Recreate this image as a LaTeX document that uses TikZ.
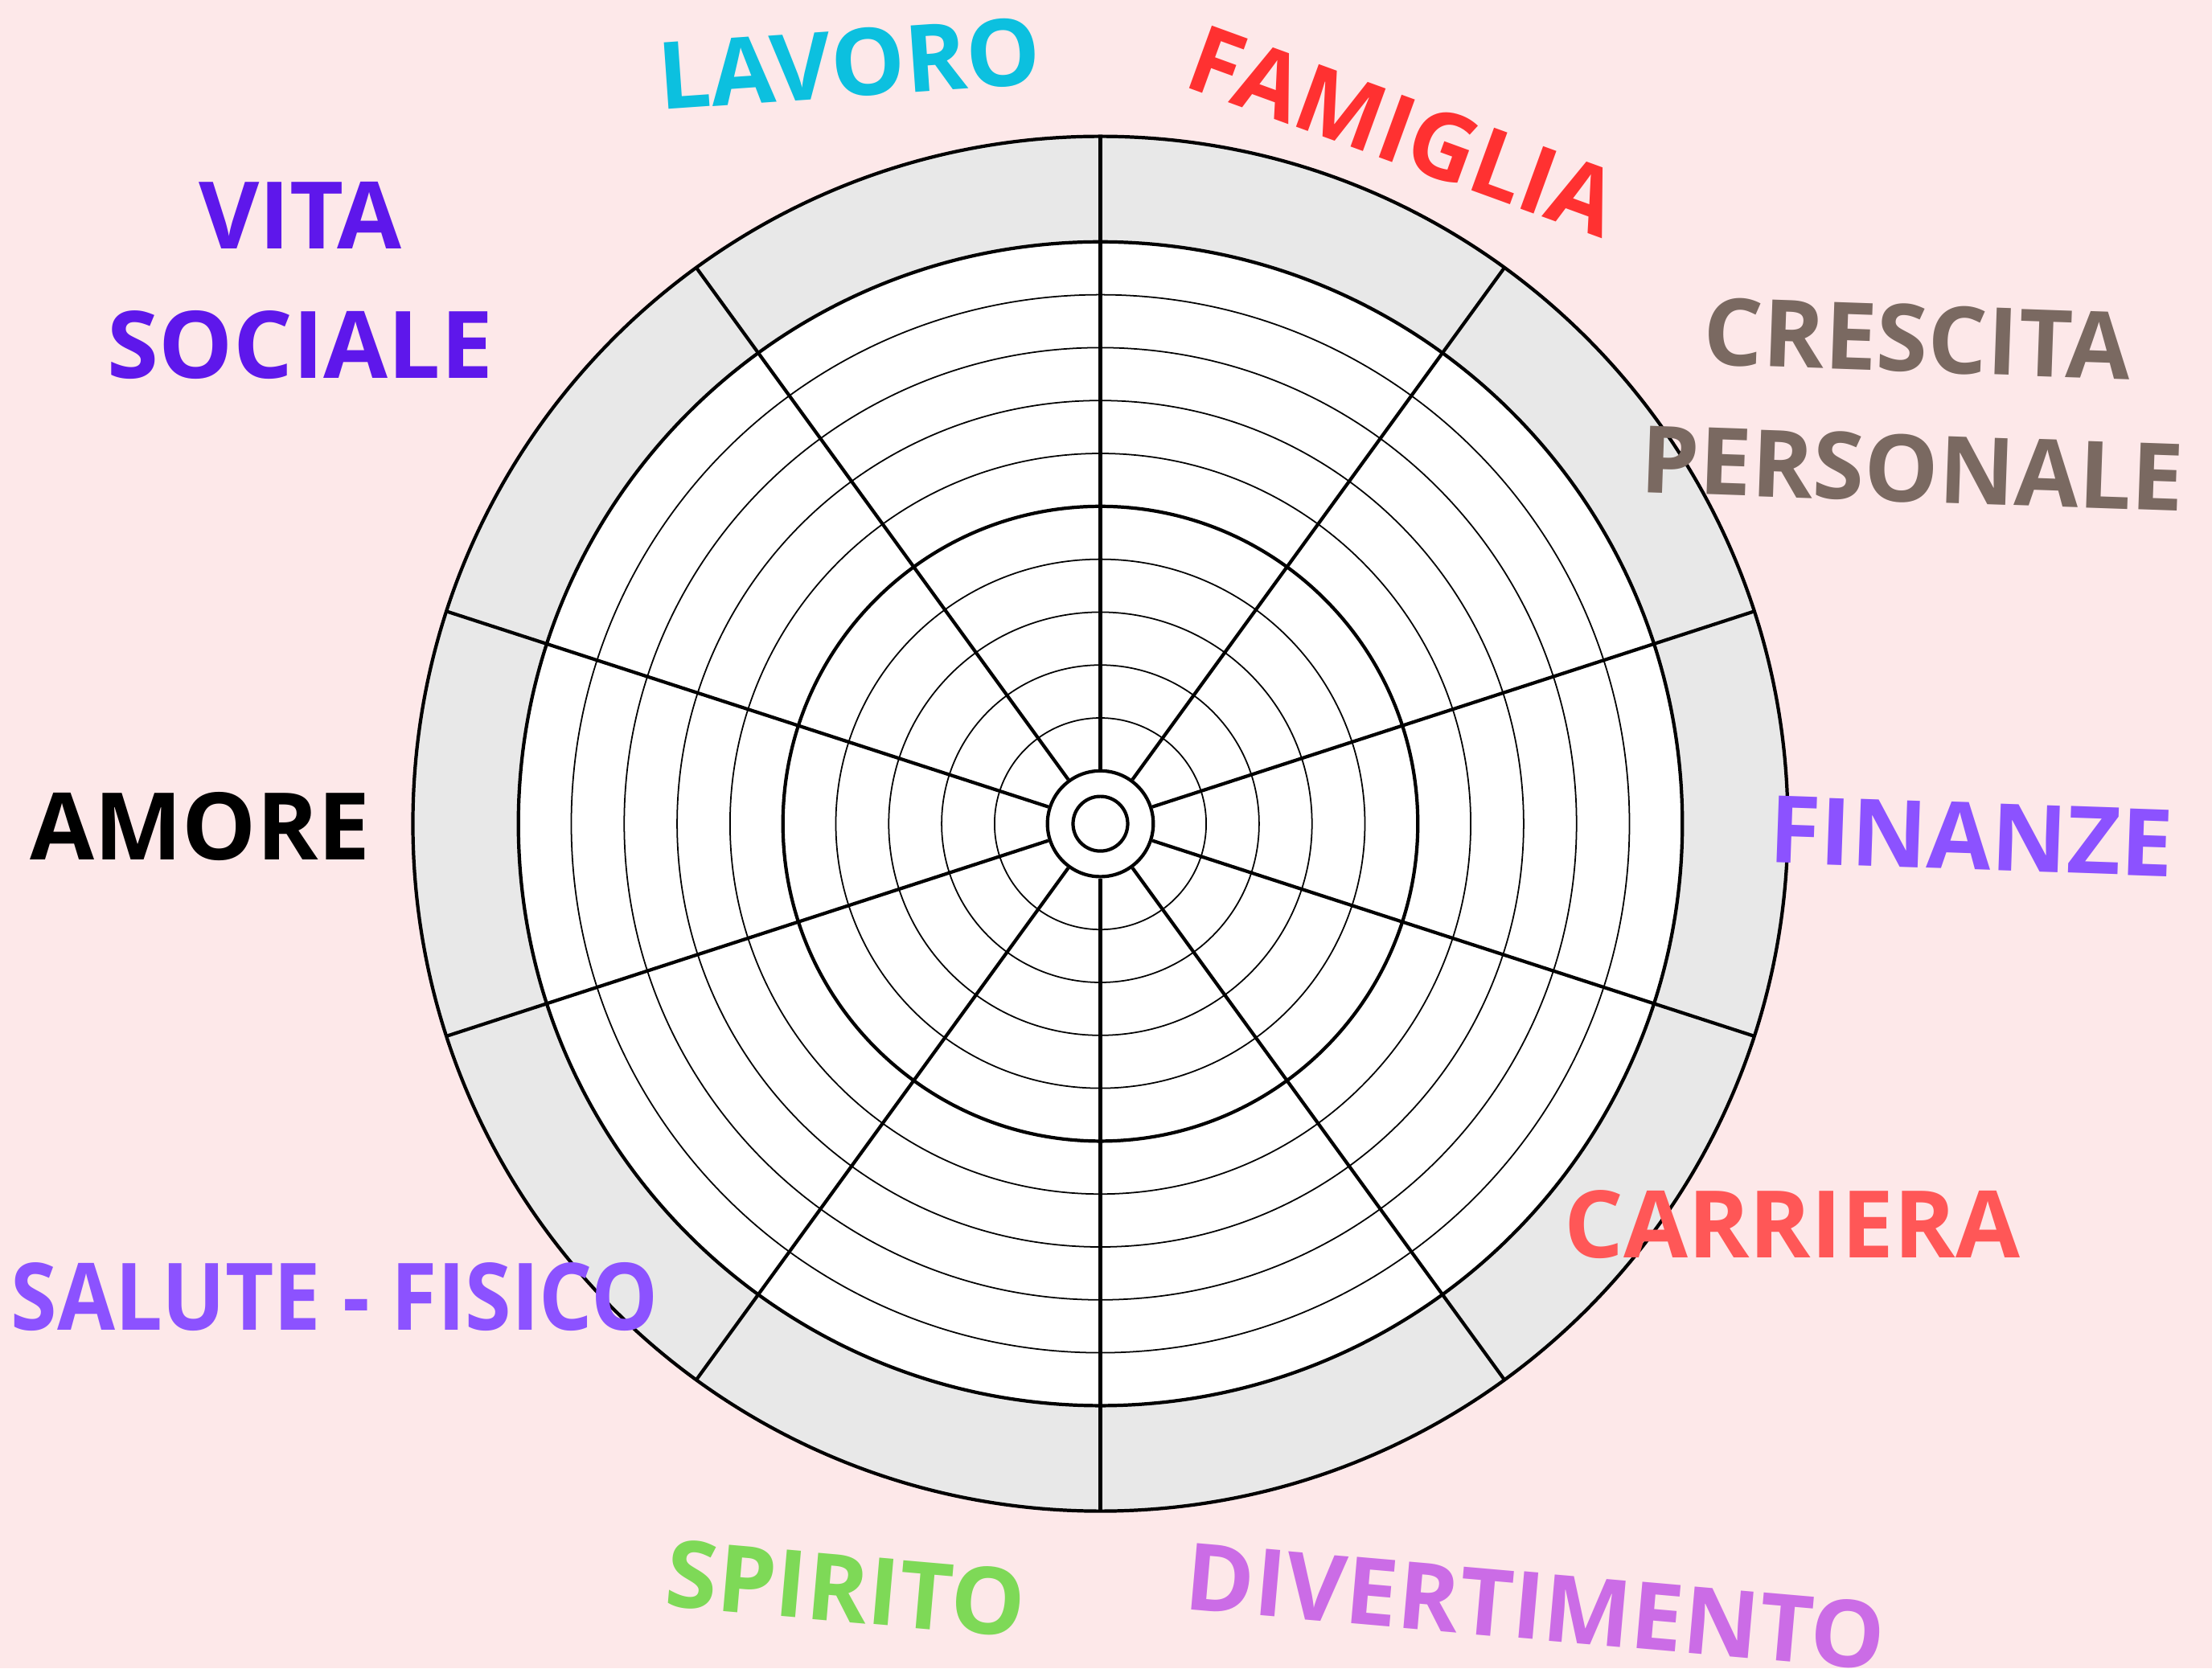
\documentclass[tikz,border=0pt]{standalone}
\usepackage{fontspec}
\setmainfont{Open Sans}
\usetikzlibrary{positioning}

\definecolor{bgpink}{HTML}{FDE8E9}
\definecolor{ringgray}{HTML}{E8E8E8}
\definecolor{lavorocol}{HTML}{0CC0DF}
\definecolor{famigliacol}{HTML}{FF3131}
\definecolor{crescitacol}{HTML}{7A6961}
\definecolor{finanzecol}{HTML}{8C52FF}
\definecolor{carrieracol}{HTML}{FF5757}
\definecolor{divertcol}{HTML}{CB6CE6}
\definecolor{spiritocol}{HTML}{7ED957}
\definecolor{socialecol}{HTML}{5E17EB}

\begin{document}
\begin{tikzpicture}[
    area/.style={font=\bfseries\fontsize{33}{46}\selectfont, align=center, inner sep=0pt},
    ring/.style={line width=0.5pt},
    bigring/.style={line width=1.2pt},
    spoke/.style={line width=1.2pt}
]
            % page size and background
            \useasboundingbox (-13.685,-10.505) rectangle (13.825,10.246);
            \fill[bgpink] (-13.685,-10.505) rectangle (13.825,10.246);

            % wheel
            \draw[bigring, fill=ringgray] (0,0) circle (8.55);
            \draw[bigring, fill=white] (0,0) circle (7.238);
            \draw[ring] (0,0) circle (6.58);
            \draw[ring] (0,0) circle (5.922);
            \draw[ring] (0,0) circle (5.264);
            \draw[ring] (0,0) circle (4.606);
            \draw[bigring] (0,0) circle (3.948);
            \draw[ring] (0,0) circle (3.29);
            \draw[ring] (0,0) circle (2.632);
            \draw[ring] (0,0) circle (1.974);
            \draw[ring] (0,0) circle (1.316);

            \node[circle, draw, bigring, fill=white, minimum size=1.316cm, inner sep=0pt] (hub) at (0,0) {};
            \node[circle, draw, bigring, minimum size=0.68cm, inner sep=0pt] (core) at (0,0) {};

            \draw[spoke] (hub.18) -- (18:8.55);
            \draw[spoke] (hub.54) -- (54:8.55);
            \draw[spoke] (hub.90) -- (90:8.55);
            \draw[spoke] (hub.126) -- (126:8.55);
            \draw[spoke] (hub.162) -- (162:8.55);
            \draw[spoke] (hub.198) -- (198:8.55);
            \draw[spoke] (hub.234) -- (234:8.55);
            \draw[spoke] (hub.270) -- (270:8.55);
            \draw[spoke] (hub.306) -- (306:8.55);
            \draw[spoke] (hub.342) -- (342:8.55);

            % areas
            \node[area, text=lavorocol, rotate=4] (lavoro) at (-3.125,9.456) {LAVORO};
            \node[area, text=famigliacol, rotate=-20] (famiglia) at (3.77,8.62) {FAMIGLIA};
            \node[area, text=crescitacol, rotate=-2] (crescita) at (10.13,5.226) {CRESCITA\\PERSONALE};
            \node[area, text=finanzecol, rotate=-2] (finanze) at (10.835,-0.154) {FINANZE};
            \node[area, text=carrieracol] (carriera) at (8.605,-4.984) {CARRIERA};
            \node[area, text=divertcol, rotate=-5] (divertimento) at (5.415,-9.734) {DIVERTIMENTO};
            \node[area, text=spiritocol, rotate=-5] (spirito) at (-3.165,-9.514) {SPIRITO};
            \node[area, text=finanzecol, xscale=0.9] (salute) at (-9.525,-5.884) {SALUTE - FISICO};
            \node[area, text=black] (amore) at (-11.195,-0.034) {AMORE};
            \node[area, text=socialecol] (sociale) at (-9.95,6.756) {VITA\\SOCIALE};
\end{tikzpicture}
\end{document}
